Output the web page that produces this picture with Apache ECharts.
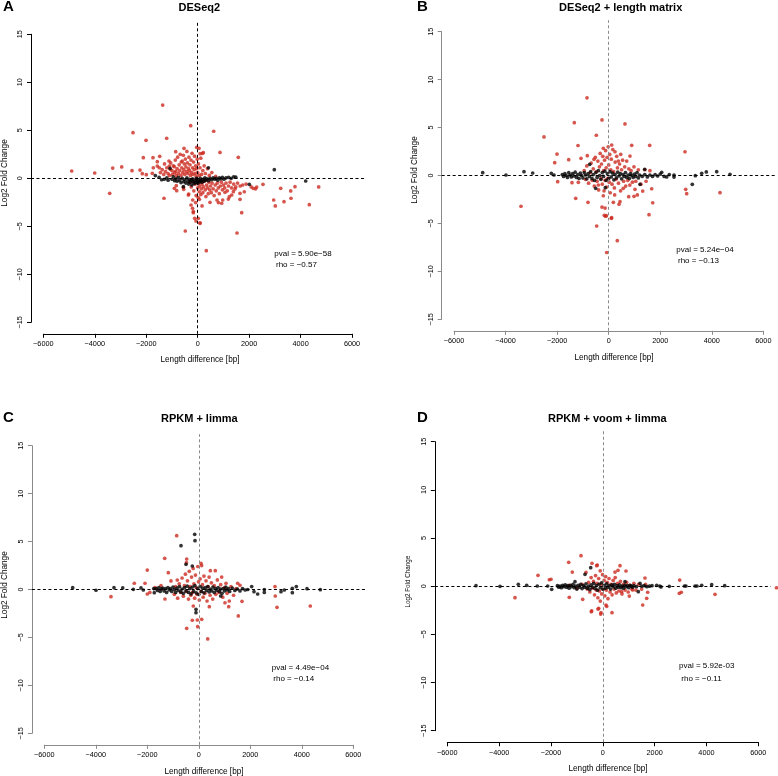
<!DOCTYPE html>
<html><head><meta charset="utf-8">
<script src="https://cdn.jsdelivr.net/npm/echarts@6/dist/echarts.min.js"></script>
<style>html,body{margin:0;padding:0;background:#fff}#c{width:778px;height:776px}</style>
</head><body><div id="c"></div>
<script>
// ---- tick labels & texts ----
const xTickLabels = [-6000, -4000, -2000, 0, 2000, 4000, 6000];
const yTickLabels = [-15, -10, -5, 0, 5, 10, 15];
const panelLetters = ['A', 'B', 'C', 'D'];
const panelTitles = ['DESeq2', 'DESeq2 + length matrix', 'RPKM + limma', 'RPKM + voom + limma'];
const pvalLabels = ['pval = 5.90e\u221258', 'pval = 5.24e\u221204', 'pval = 4.49e\u221204', 'pval = 5.92e-03'];
const rhoLabels = ['rho = \u22120.57', 'rho = \u22120.13', 'rho = \u22120.14', 'rho = \u22120.11'];
const xAxisTitle = 'Length difference [bp]';
const yAxisTitle = 'Log2 Fold Change';

// ---- Panel A: DESeq2 ----
const deseqRed = [
[-4898,0.76],[-4004,0.55],[-3421,-1.56],[-3304,1.07],[-2954,1.18],[-2554,0.79],[-2515,4.75],[-2243,0.86],[-2153,0.48],[-2114,2.15],
[-2010,3.96],[-1998,0.38],[-1738,2.15],[-1726,1.10],[-1765,0.52],[-1570,1.73],[-1570,1.28],[-1477,2.29],[-1493,1.10],[-1361,7.63],
[-1310,-2.08],[-1205,4.17],[-1116,1.80],[-1104,1.28],[-1065,0.94],[-910,1.21],[-855,2.77],[-855,0.73],[-832,-0.77],[-816,-1.29],
[-638,1.70],[-482,-5.49],[-533,3.12],[-544,-1.15],[-350,-1.64],[-272,5.48],[-260,-2.78],[-199,-3.13],[-171,-3.58],[-117,-4.17],
[-66,-4.45],[-39,3.23],[622,4.90],[867,2.70],[1578,2.19],[2538,-0.63],[3226,-1.04],[3782,-0.87],[4703,-0.90],[3615,-1.32],
[2954,-2.26],[3017,-2.88],[3355,-2.43],[3627,-2.08],[4338,-2.75],[1710,-3.58],[1528,-5.70],[334,-7.54],[1812,-1.40],[2161,-1.04],
[2293,-0.91],[1644,-1.56],[1450,-1.11],[1322,-1.74],[1190,-2.16],[1061,-1.46],[933,-2.60],[750,-2.26],[478,-2.50],[23,-4.17],
[89,-4.63],[179,2.60],[51,3.12],[91,2.57],[220,2.67],[168,-2.88],[65,-2.19],[-194,-2.26],[-168,-3.47],[-363,-1.74],
[-557,-0.94],[-907,-1.04],[-78,-2.53],[91,-4.69],[1646,-2.19],[1231,-1.91],[972,-2.26],[804,-2.53],[1387,-1.39],
[-1450,0.6],[-1380,0.9],[-1320,0.4],[-1290,1.5],[-1250,0.7],[-1200,1.1],[-1150,0.5],[-1100,0.3],[-1050,1.6],[-1000,0.8],
[-980,0.4],[-950,1.3],[-900,0.6],[-870,1.9],[-830,0.3],[-800,1.0],[-780,2.2],[-750,0.5],[-720,1.4],[-700,0.8],
[-680,2.5],[-650,0.3],[-620,1.1],[-600,1.8],[-580,0.6],[-560,2.4],[-540,0.9],[-520,1.5],[-500,0.4],[-480,2.0],
[-460,1.2],[-440,0.7],[-420,2.8],[-400,1.6],[-380,0.5],[-360,1.0],[-340,2.2],[-320,0.8],[-300,1.4],[-280,0.3],
[-260,1.9],[-240,0.6],[-220,2.6],[-200,1.1],[-180,0.4],[-160,1.7],[-140,0.9],[-120,2.3],[-100,0.5],[-80,1.3],
[-60,0.2],[-40,1.0],[-20,2.0],[0,0.6],[30,1.5],[60,0.3],[90,1.1],[120,2.1],[150,0.4],[200,0.8],
[250,1.3],[300,0.5],[380,1.0],[450,0.3],[550,0.6],[700,0.2],
[-300,-0.4],[-250,-0.9],[-200,-0.3],[-150,-1.3],[-100,-0.6],[-60,-1.8],[-30,-0.2],[0,-1.0],[20,-2.0],[40,-0.5],
[60,-1.4],[80,-0.8],[100,-0.3],[120,-1.7],[140,-1.1],[170,-0.6],[200,-1.5],[230,-0.9],[260,-0.3],[290,-1.2],
[320,-1.9],[350,-0.7],[380,-1.0],[410,-1.6],[440,-0.4],[470,-1.2],[500,-0.8],[530,-1.5],[560,-0.5],[600,-1.1],
[640,-1.8],[680,-0.7],[720,-1.3],[760,-0.5],[800,-1.0],[840,-1.6],[880,-0.8],[920,-0.4],[960,-1.2],[1000,-0.7],
[1050,-1.0],[1100,-0.5],[1150,-1.3],[1200,-0.8],[1260,-0.4],[1320,-1.0],[1400,-0.6],[1480,-0.9],[1550,-0.5],[1650,-0.8],
[1750,-0.7],[1880,-0.6],[2080,-0.9],[2250,-1.1]
];
const deseqBlack = [
[-1646,0.28],[-1500,0.1],[-1400,-0.15],[-1300,-0.1],[-1200,0.05],[-1150,-0.2],[-1076,1.04],[-1000,-0.1],[-950,0.15],[-900,-0.25],
[-850,-0.05],[-800,-0.3],[-750,0.1],[-700,-0.2],[-650,-0.45],[-600,0.0],[-557,-0.87],[-540,-0.35],[-500,-0.15],[-460,-0.5],
[-420,0.05],[-380,-0.3],[-350,-0.6],[-320,-0.1],[-290,-0.4],[-260,-0.2],[-230,-0.7],[-200,-0.05],[-170,-0.35],[-140,-0.55],
[-110,-0.2],[-80,-0.45],[-50,0.0],[-20,-0.3],[10,-0.5],[40,-0.15],[70,-0.35],[100,0.0],[130,-0.25],[160,-0.4],
[200,-0.1],[240,-0.3],[280,0.05],[320,-0.2],[360,-0.05],[415,1.1],[420,-0.25],[480,0.0],[540,-0.15],[600,0.05],
[660,-0.1],[720,0.0],[780,-0.2],[840,0.05],[900,-0.05],[960,0.1],[1020,-0.1],[1100,0.05],[1200,0.1],[1300,0.0],
[1400,0.15],[1480,0.12],[2006,-0.63],[2978,0.90],[4198,-0.28]
];

// ---- Panel B: DESeq2 + length matrix ----
const lengthRed = [
[-842,8.10],[-260,5.80],[-1334,5.51],[632,5.38],[-481,4.20],[-2510,4.02],[-1191,3.13],[892,3.15],[1591,3.15],[2960,2.48],
[-2006,2.24],[-2095,1.34],[-1552,1.65],[-1075,1.79],[-830,2.07],[-570,1.69],[-209,2.84],[826,2.03],[466,2.21],[372,1.51],
[244,2.48],[116,3.18],[-1979,-0.64],[-1424,-0.75],[-1179,-0.71],[-1280,-2.38],[-803,-2.80],[-3403,-3.21],[-466,-5.27],[-260,-3.29],
[-171,-4.15],[-120,-4.25],[-78,-8.03],[-209,-2.11],[-403,-0.99],[2987,-1.44],[3026,-1.90],[4318,-1.79],[1668,-1.38],[1707,-2.84],
[1564,-4.09],[1319,-1.62],[1110,-2.03],[1020,-1.44],[438,-2.73],[334,-6.80],[116,-4.40],[180,-2.80],[566,-1.34],[-140,-3.4],
[-92,-4.19],[100,-4.47],[232,-2.03],[400,-3.0],[776,-2.21],[982,-2.17],
[-950,0.5],[-900,-0.4],[-850,1.0],[-780,-0.8],[-720,0.3],[-680,1.3],[-640,-0.5],[-600,0.7],[-560,-1.1],[-520,1.9],
[-480,0.4],[-450,-0.6],[-420,1.5],[-390,-1.5],[-360,0.9],[-330,2.3],[-300,-0.3],[-280,1.2],[-250,-0.9],[-230,2.0],
[-200,0.5],[-180,-1.6],[-160,1.6],[-140,-0.5],[-120,2.6],[-100,0.8],[-80,-1.2],[-60,1.9],[-40,-0.3],[-20,3.0],
[0,1.1],[20,-0.7],[40,2.2],[60,-1.8],[80,0.6],[100,1.7],[130,-0.9],[160,2.7],[190,0.4],[220,-1.3],
[250,1.4],[280,-0.4],[310,2.0],[340,0.8],[380,-0.8],[420,1.2],[460,-1.6],[500,0.6],[540,1.6],[580,-0.6],
[620,0.9],[660,-1.1],[700,1.5],[740,-0.5],[780,0.7],[820,-1.0],[870,0.5],[920,-0.7],[980,0.9],[1050,-0.6],
[1150,0.6],[1250,-0.9],[1400,0.6],[1450,-0.6],[1600,0.5]
];
const lengthBlack = [
[-4888,0.29],[-3985,0.05],[-3286,0.40],[-2949,0.26],[-2227,0.23],[-2122,0.05],[4706,0.12],[4190,0.40],[3787,0.37],[3608,0.23],
[3361,-0.02],[3243,-0.92],[2534,0.05],[2534,-0.16],[2350,0.1],[2250,-0.15],[2056,0.33],[1214,-0.92],[-737,1.17],[-505,-1.34],
[-132,-1.27],[1397,0.65],
[-1800,0.1],[-1750,-0.1],[-1700,0.2],[-1650,0.0],[-1600,-0.2],[-1550,0.3],[-1500,0.05],[-1450,-0.15],[-1400,0.2],[-1350,-0.05],
[-1300,0.35],[-1250,-0.2],[-1200,0.1],[-1150,-0.3],[-1100,0.25],[-1050,0.0],[-1000,-0.25],[-950,0.3],[-900,0.05],[-850,-0.35],
[-800,0.2],[-750,-0.1],[-700,0.4],[-650,-0.3],[-600,0.1],[-550,-0.5],[-500,0.3],[-450,-0.2],[-400,0.5],[-350,0.0],
[-300,-0.4],[-250,0.3],[-200,-0.1],[-150,0.45],[-100,-0.5],[-50,0.2],[0,-0.3],[50,0.4],[100,-0.15],[150,0.25],
[200,-0.45],[250,0.1],[300,-0.25],[350,0.35],[400,-0.05],[450,0.2],[500,-0.35],[550,0.1],[600,-0.1],[650,0.3],
[700,-0.2],[750,0.05],[800,-0.3],[850,0.2],[900,0.0],[950,-0.2],[1000,0.15],[1050,-0.1],[1100,0.3],[1150,-0.25],
[1200,0.05],[1300,-0.1],[1400,0.1],[1500,-0.15],[1600,0.05],[1700,-0.1],[1800,0.1],[1900,-0.05],[2000,0.15],[2150,-0.1]
];

// ---- Panel C: RPKM + limma ----
const limmaRed = [
[-858,5.61],[-1324,3.25],[-2000,2.03],[-1184,1.75],[-470,3.18],[-480,2.8],[-2505,0.65],[-2089,0.65],[-3410,-0.75],[-2000,-0.47],
[-1080,0.89],[-835,0.99],[-1468,0.40],[-1313,-0.99],[-470,-4.05],[-252,-3.21],[-58,-3.18],[113,-3.11],[-43,-3.88],[346,-5.16],
[-214,-1.72],[2959,0.30],[2971,-0.68],[3037,-1.86],[4330,-1.72],[1534,-2.76],[1678,-1.23],[1161,-1.79],[1184,-1.20],[1017,-1.38],
[447,1.96],[641,1.96],[889,1.30],[1056,0.65],[1510,0.65],[1600,0.44],[408,-1.79],[85,2.73],[-1700,0.2],[-1900,-0.3],
[-950,-0.5],[-900,0.3],[-820,-0.9],[-760,0.6],[-700,-0.3],[-650,1.2],[-600,-0.7],[-560,0.4],[-520,1.6],[-480,-0.2],
[-440,0.9],[-400,-1.0],[-370,1.9],[-340,0.3],[-310,-0.6],[-280,1.3],[-250,-0.3],[-220,2.2],[-190,0.6],[-160,-0.9],
[-130,1.5],[-100,0.2],[-70,-0.5],[-40,2.4],[-10,0.8],[20,-1.1],[50,1.1],[80,-0.2],[110,2.5],[140,0.5],
[170,-0.8],[200,1.4],[240,-0.4],[280,0.9],[320,-1.2],[360,0.3],[400,1.3],[440,-0.6],[490,0.7],[540,-1.0],
[600,0.4],[660,-0.5],[720,1.0],[780,-0.3],[850,0.5],[930,-0.8],[1000,0.2],[1100,-0.4],[1250,0.3],[1350,-0.6],[1450,0.1]
];
const limmaBlack = [
[-4897,0.19],[-3992,-0.08],[-3293,0.19],[-2955,0.16],[-2544,0.02],[-2245,0.16],[-2155,-0.05],[-1728,-0.33],[-1750,0.1],[-159,5.76],
[-148,5.09],[-691,4.57],[-497,2.63],[-252,2.45],[-109,-2.42],[-109,-2.07],[4719,-0.02],[4202,0.09],[3787,0.30],[3632,0.12],
[3632,-0.33],[3320,-0.05],[3192,-0.23],[2544,0.0],[2544,-0.3],[2287,-0.47],[2054,0.3],[2144,-0.23],[850,-0.68],
[-1650,0.1],[-1600,-0.1],[-1550,0.2],[-1500,-0.2],[-1450,0.05],[-1400,0.15],[-1350,-0.15],[-1300,0.1],[-1250,-0.3],[-1200,0.2],
[-1150,-0.05],[-1100,0.1],[-1050,-0.2],[-1000,0.25],[-950,0.0],[-900,-0.3],[-850,0.15],[-800,-0.1],[-750,0.3],[-700,-0.25],
[-650,0.05],[-600,-0.4],[-550,0.2],[-500,-0.15],[-450,0.35],[-400,-0.3],[-350,0.1],[-300,-0.45],[-250,0.25],[-200,-0.2],
[-150,0.4],[-100,-0.35],[-50,0.1],[0,-0.5],[50,0.3],[100,-0.2],[150,0.15],[200,-0.35],[250,0.2],[300,-0.1],
[350,0.3],[400,-0.25],[450,0.05],[500,-0.15],[550,0.25],[600,-0.3],[650,0.1],[700,-0.1],[750,0.2],[800,-0.2],
[850,0.05],[900,-0.4],[950,0.1],[1000,-0.15],[1050,0.25],[1100,-0.05],[1150,0.1],[1200,-0.2],[1300,0.15],[1400,-0.1],
[1500,0.05],[1600,-0.15],[1700,0.1],[1800,-0.05],[1900,0.0]
];

// ---- Panel D: RPKM + voom + limma ----
const voomRed = [
[-841,3.17],[-1316,2.48],[-1177,1.47],[-2500,1.13],[-2064,0.67],[-1999,0.72],[-3388,-1.19],[-1293,-1.15],[-776,-1.36],[-429,-2.57],
[-158,-2.30],[-69,-2.75],[-648,1.44],[-235,2.13],[6700,-0.16],[2967,0.64],[2952,-0.74],[3029,-0.63],[4329,-0.84],[1540,-1.95],
[1694,-1.26],[1732,-0.63],[1628,0.85],[895,1.58],[664,2.13],[471,1.47],[355,-2.75],[123,-1.95],[729,-0.57],[1154,-0.39],
[1022,-1.02],[-212,2.2],[-417,2.38],[-96,-1.54],[150,-2.09],[-185,-2.37],[-444,-2.64],[-81,-2.89],[587,1.65],
[-600,-0.3],[-550,0.4],[-500,-0.6],[-450,0.9],[-400,-0.2],[-360,0.5],[-320,-0.9],[-280,1.1],[-250,-0.4],[-220,0.3],
[-190,-1.2],[-160,0.8],[-130,-0.5],[-100,1.6],[-70,0.2],[-40,-0.8],[-10,1.2],[20,-0.3],[50,0.6],[80,-1.0],
[110,1.0],[140,-0.4],[170,0.4],[200,-1.3],[240,0.8],[280,-0.6],[320,0.2],[360,-0.9],[400,0.6],[440,-0.3],
[480,0.9],[520,-0.7],[570,0.3],[620,-0.5],[680,0.5],[740,-0.8],[800,0.2],[860,-0.4],[920,0.4],[980,-0.6],
[1050,0.1],[1120,-0.3],[1200,0.3],[1280,-0.4],[1380,0.2],[1500,-0.3],[1650,0.2],[-800,0.2],[-1000,-0.2],[-1300,0.1]
];
const voomBlack = [
[-4893,0.05],[-3966,-0.01],[-3260,0.2],[-2937,0.09],[-2527,0.02],[-2126,0.02],[-1972,-0.32],[-1750,0.05],[-1700,-0.1],[-1073,0.47],
[-687,1.23],[-467,1.92],[4703,0.05],[4201,0.16],[3815,0.09],[3635,0.02],[3560,0.02],[3210,0.02],[3150,0.02],[2567,-0.01],
[2246,-0.08],[2200,0.02],[2079,0.09],[1370,-0.57],[1435,0.30],[857,0.47],
[-1650,0.0],[-1600,-0.15],[-1550,0.1],[-1500,-0.05],[-1450,0.15],[-1400,-0.1],[-1350,0.05],[-1300,-0.2],[-1250,0.1],[-1200,-0.05],
[-1150,0.2],[-1100,-0.15],[-1050,0.0],[-1000,-0.3],[-950,0.1],[-900,-0.1],[-850,0.2],[-800,-0.25],[-750,0.05],[-700,-0.1],
[-650,0.25],[-600,-0.2],[-550,0.0],[-500,-0.35],[-450,0.15],[-400,-0.1],[-350,0.3],[-300,-0.25],[-250,0.05],[-200,-0.4],
[-150,0.2],[-100,-0.15],[-50,0.35],[0,-0.3],[50,0.1],[100,-0.2],[150,0.25],[200,-0.1],[250,0.05],[300,-0.3],
[350,0.15],[400,-0.05],[450,0.2],[500,-0.2],[550,0.05],[600,-0.1],[650,0.15],[700,-0.15],[750,0.0],[800,-0.2],
[850,0.1],[900,-0.05],[950,0.05],[1000,-0.15],[1050,0.1],[1100,0.0],[1150,-0.1],[1200,0.05],[1300,-0.05],[1500,0.0],
[1600,0.05],[1700,-0.05],[1800,0.0],[1900,0.05]
];

const redSets = [deseqRed, lengthRed, limmaRed, voomRed];
const blackSets = [deseqBlack, lengthBlack, limmaBlack, voomBlack];

// ---- layout (pixels) ----
const FONT = 'Liberation Sans, Arial, Helvetica, sans-serif';
const RED = '#cc2a20';
const GRAY = '#8a8a8a';
const layout = [
  {axL:43.35, axR:352.05, axT:34.3, axB:322.3, axis:'#000', vline:'#000', letter:[3,6.5], title:[199.3,7.5], xname:[200,360], yname:[4.5,173,8.2], pval:[274.3,254], rho:[276,265]},
  {axL:454.05, axR:763.35, axT:31.7, axB:319.3, axis:GRAY, vline:GRAY, letter:[417,6.5], title:[620.7,7.5], xname:[614,357.3], yname:[414.7,170,8.2], pval:[676.3,250], rho:[678,261]},
  {axL:44.3, axR:353.3, axT:445.7, axB:733.3, axis:GRAY, vline:GRAY, letter:[3,418.3], title:[199.3,419.3], xname:[204,771.5], yname:[4.5,585,8.2], pval:[271.7,667.3], rho:[273.3,678.3]},
  {axL:447.3, axR:758.3, axT:441.7, axB:730.7, axis:'#000', vline:GRAY, letter:[417,418.3], title:[607.3,419.3], xname:[608,769], yname:[408,581.7,6.3], pval:[679,666], rho:[681.3,678.3]}
];
const EXT = 0.04; // R's 4% axis extension each side

const fmt = v => String(v).replace('-', '\u2212');
const xLo = xTickLabels[0], xHi = xTickLabels[xTickLabels.length - 1];
const yLo = yTickLabels[0], yHi = yTickLabels[yTickLabels.length - 1];

const grid = [], xAxis = [], yAxis = [], series = [], graphic = [];
layout.forEach((L, i) => {
  const w = L.axR - L.axL, h = L.axB - L.axT;
  grid.push({left: L.axL - EXT * w, top: L.axT - EXT * h, width: w * (1 + 2 * EXT), height: h * (1 + 2 * EXT)});
  grid.push({left: L.axL, top: L.axT, width: w, height: h});
  const gx = 2 * i, ga = 2 * i + 1;
  xAxis.push({gridIndex: gx, type: 'value', min: xLo - EXT * (xHi - xLo), max: xHi + EXT * (xHi - xLo), show: false, splitLine: {show: false}});
  yAxis.push({gridIndex: gx, type: 'value', min: yLo - EXT * (yHi - yLo), max: yHi + EXT * (yHi - yLo), show: false, splitLine: {show: false}});
  xAxis.push({gridIndex: ga, type: 'value', min: xLo, max: xHi, interval: xTickLabels[1] - xTickLabels[0],
    position: 'bottom', offset: EXT * h,
    axisLine: {show: true, onZero: false, lineStyle: {color: L.axis, width: 1}},
    axisTick: {show: true, length: 4, lineStyle: {color: L.axis, width: 1}},
    axisLabel: {show: true, fontSize: 7.3, fontFamily: FONT, color: '#000', margin: 7, formatter: fmt, showMinLabel: true, showMaxLabel: true},
    splitLine: {show: false}});
  yAxis.push({gridIndex: ga, type: 'value', min: yLo, max: yHi, interval: yTickLabels[1] - yTickLabels[0],
    position: 'left', offset: EXT * w,
    axisLine: {show: true, onZero: false, lineStyle: {color: L.axis, width: 1}},
    axisTick: {show: true, length: 4, lineStyle: {color: L.axis, width: 1}},
    axisLabel: {show: true, fontSize: 7.3, fontFamily: FONT, color: '#000', margin: 7.5, rotate: 90, formatter: fmt, showMinLabel: true, showMaxLabel: true},
    splitLine: {show: false}});
  series.push({type: 'scatter', xAxisIndex: gx, yAxisIndex: gx, data: redSets[i], symbolSize: 3.7, clip: false,
    itemStyle: {color: RED}, silent: true,
    markLine: {silent: true, symbol: ['none', 'none'], label: {show: false}, animation: false,
      data: [
        {xAxis: 0, lineStyle: {color: L.vline, type: [3, 2.5], width: 1}},
        {yAxis: 0, lineStyle: {color: '#000', type: [3, 2.5], width: 1}}
      ]}});
  series.push({type: 'scatter', xAxisIndex: gx, yAxisIndex: gx, data: blackSets[i], symbolSize: 3.7, clip: false,
    itemStyle: {color: '#000'}, silent: true});

  const t = (x, y, text, size, opts) => graphic.push(Object.assign({type: 'text', x: x, y: y,
    style: Object.assign({text: text, fontSize: size, fontFamily: FONT, fill: '#000', align: 'left', verticalAlign: 'middle'}, opts && opts.style || {})},
    opts && opts.el || {}));
  t(L.letter[0], L.letter[1], panelLetters[i], 15, {style: {fontWeight: 'bold'}});
  t(L.title[0], L.title[1], panelTitles[i], 11, {style: {fontWeight: 'bold', align: 'center'}});
  t(L.xname[0], L.xname[1], xAxisTitle, 8.2, {style: {align: 'center'}});
  t(L.yname[0], L.yname[1], yAxisTitle, L.yname[2], {style: {align: 'center'}, el: {rotation: Math.PI / 2}});
  t(L.pval[0], L.pval[1], pvalLabels[i], 8);
  t(L.rho[0], L.rho[1], rhoLabels[i], 8);
});

const chart = echarts.init(document.getElementById('c'), null, {renderer: 'canvas'});
chart.setOption({animation: false, backgroundColor: '#fff', grid, xAxis, yAxis, series, graphic});
</script></body></html>
